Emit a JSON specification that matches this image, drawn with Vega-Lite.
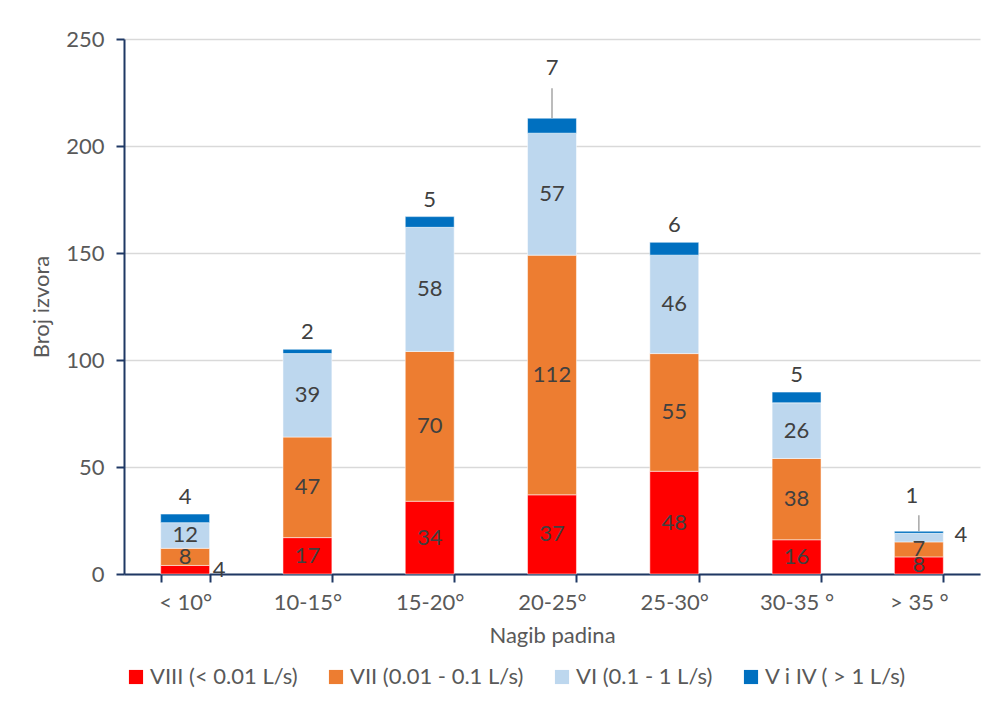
{
  "$schema": "https://vega.github.io/schema/vega-lite/v6.json",
  "width": 856,
  "height": 535,
  "autosize": {"type": "none"},
  "padding": {"left": 124, "top": 39, "right": 17, "bottom": 128},
  "background": "white",
  "config": {
    "font": "Lato",
    "view": {"stroke": null},
    "axis": {"labelFont": "Lato", "titleFont": "Lato"},
    "legend": {"labelFont": "Lato"}
  },
  "data": {
    "values": [
      {"cat": "< 10°", "series": "VIII (< 0.01 L/s)", "ord": 1, "value": 4},
      {"cat": "< 10°", "series": "VII (0.01 - 0.1 L/s)", "ord": 2, "value": 8},
      {"cat": "< 10°", "series": "VI (0.1 - 1 L/s)", "ord": 3, "value": 12},
      {"cat": "< 10°", "series": "V i IV ( > 1 L/s)", "ord": 4, "value": 4},
      {"cat": "10-15°", "series": "VIII (< 0.01 L/s)", "ord": 1, "value": 17},
      {"cat": "10-15°", "series": "VII (0.01 - 0.1 L/s)", "ord": 2, "value": 47},
      {"cat": "10-15°", "series": "VI (0.1 - 1 L/s)", "ord": 3, "value": 39},
      {"cat": "10-15°", "series": "V i IV ( > 1 L/s)", "ord": 4, "value": 2},
      {"cat": "15-20°", "series": "VIII (< 0.01 L/s)", "ord": 1, "value": 34},
      {"cat": "15-20°", "series": "VII (0.01 - 0.1 L/s)", "ord": 2, "value": 70},
      {"cat": "15-20°", "series": "VI (0.1 - 1 L/s)", "ord": 3, "value": 58},
      {"cat": "15-20°", "series": "V i IV ( > 1 L/s)", "ord": 4, "value": 5},
      {"cat": "20-25°", "series": "VIII (< 0.01 L/s)", "ord": 1, "value": 37},
      {"cat": "20-25°", "series": "VII (0.01 - 0.1 L/s)", "ord": 2, "value": 112},
      {"cat": "20-25°", "series": "VI (0.1 - 1 L/s)", "ord": 3, "value": 57},
      {"cat": "20-25°", "series": "V i IV ( > 1 L/s)", "ord": 4, "value": 7},
      {"cat": "25-30°", "series": "VIII (< 0.01 L/s)", "ord": 1, "value": 48},
      {"cat": "25-30°", "series": "VII (0.01 - 0.1 L/s)", "ord": 2, "value": 55},
      {"cat": "25-30°", "series": "VI (0.1 - 1 L/s)", "ord": 3, "value": 46},
      {"cat": "25-30°", "series": "V i IV ( > 1 L/s)", "ord": 4, "value": 6},
      {"cat": "30-35 °", "series": "VIII (< 0.01 L/s)", "ord": 1, "value": 16},
      {"cat": "30-35 °", "series": "VII (0.01 - 0.1 L/s)", "ord": 2, "value": 38},
      {"cat": "30-35 °", "series": "VI (0.1 - 1 L/s)", "ord": 3, "value": 26},
      {"cat": "30-35 °", "series": "V i IV ( > 1 L/s)", "ord": 4, "value": 5},
      {"cat": "> 35 °", "series": "VIII (< 0.01 L/s)", "ord": 1, "value": 8},
      {"cat": "> 35 °", "series": "VII (0.01 - 0.1 L/s)", "ord": 2, "value": 7},
      {"cat": "> 35 °", "series": "VI (0.1 - 1 L/s)", "ord": 3, "value": 4},
      {"cat": "> 35 °", "series": "V i IV ( > 1 L/s)", "ord": 4, "value": 1}
    ]
  },
  "encoding": {
    "x": {
      "field": "cat",
      "type": "nominal",
      "sort": ["< 10°", "10-15°", "15-20°", "20-25°", "25-30°", "30-35 °", "> 35 °"],
      "scale": {"paddingInner": 0.6, "paddingOuter": 0.3},
      "axis": {
        "title": "Nagib padina",
        "labelAngle": 0,
        "tickBand": "extent",
        "domainColor": "#1F3864",
        "domainWidth": 2,
        "tickColor": "#1F3864",
        "tickWidth": 2,
        "tickSize": 8,
        "labelFontSize": 22,
        "labelColor": "#595959",
        "labelPadding": 10,
        "titleFontSize": 22,
        "titleColor": "#595959",
        "titleFontWeight": "normal",
        "titlePadding": 12,
        "grid": false
      }
    }
  },
  "layer": [
    {
      "mark": {"type": "bar", "stroke": "white", "strokeWidth": 1, "strokeOpacity": 0.5},
      "encoding": {
        "y": {
          "field": "value",
          "type": "quantitative",
          "stack": "zero",
          "scale": {"domain": [0, 250], "nice": false, "zero": true},
          "axis": {
            "title": "Broj izvora",
            "values": [0, 50, 100, 150, 200, 250],
            "grid": true,
            "gridColor": "#d9d9d9",
            "gridWidth": 1.5,
            "domainColor": "#1F3864",
            "domainWidth": 2,
            "tickColor": "#1F3864",
            "tickWidth": 2,
            "tickSize": 8,
            "labelFontSize": 22,
            "labelColor": "#595959",
            "labelPadding": 12,
            "titleFontSize": 22,
            "titleColor": "#595959",
            "titleFontWeight": "normal",
            "titlePadding": 12
          }
        },
        "color": {
          "field": "series",
          "type": "nominal",
          "scale": {
            "domain": ["VIII (< 0.01 L/s)", "VII (0.01 - 0.1 L/s)", "VI (0.1 - 1 L/s)", "V i IV ( > 1 L/s)"],
            "range": ["#FF0000", "#ED7D31", "#BDD7EE", "#0070C0"]
          },
          "legend": {
            "title": null,
            "orient": "none",
            "legendX": 1,
            "legendY": 627,
            "direction": "horizontal",
            "symbolType": "square",
            "symbolSize": 200,
            "symbolStrokeWidth": 0,
            "labelFontSize": 22,
            "labelColor": "#595959",
            "labelLimit": 400,
            "columnPadding": 27,
            "labelOffset": 3
          }
        },
        "order": {"field": "ord", "type": "quantitative"}
      }
    },
    {
      "transform": [
        {"stack": "value", "groupby": ["cat"], "sort": [{"field": "ord"}], "as": ["y0", "y1"]},
        {"calculate": "(datum.y0 + datum.y1) / 2", "as": "mid"},
        {"filter": "datum.ord < 4 && !(datum.cat == '< 10°' && datum.ord == 1) && !(datum.cat == '> 35 °' && datum.ord == 3)"}
      ],
      "mark": {"type": "text", "fontSize": 22, "color": "#404040", "baseline": "middle"},
      "encoding": {
        "y": {"field": "mid", "type": "quantitative", "title": "Broj izvora"},
        "text": {"field": "value", "type": "quantitative"}
      }
    },
    {
      "transform": [
        {"stack": "value", "groupby": ["cat"], "sort": [{"field": "ord"}], "as": ["y0", "y1"]},
        {"calculate": "(datum.y0 + datum.y1) / 2", "as": "mid"},
        {"filter": "datum.cat == '< 10°' && datum.ord == 1"}
      ],
      "mark": {"type": "text", "fontSize": 22, "color": "#404040", "baseline": "middle", "dx": 34},
      "encoding": {
        "y": {"field": "mid", "type": "quantitative", "title": "Broj izvora"},
        "text": {"field": "value", "type": "quantitative"}
      }
    },
    {
      "transform": [
        {"stack": "value", "groupby": ["cat"], "sort": [{"field": "ord"}], "as": ["y0", "y1"]},
        {"calculate": "(datum.y0 + datum.y1) / 2", "as": "mid"},
        {"filter": "datum.cat == '> 35 °' && datum.ord == 3"}
      ],
      "mark": {"type": "text", "fontSize": 22, "color": "#404040", "baseline": "middle", "dx": 42, "dy": -3},
      "encoding": {
        "y": {"field": "mid", "type": "quantitative", "title": "Broj izvora"},
        "text": {"field": "value", "type": "quantitative"}
      }
    },
    {
      "transform": [
        {"stack": "value", "groupby": ["cat"], "sort": [{"field": "ord"}], "as": ["y0", "y1"]},
        {"filter": "datum.ord == 4 && datum.cat != '20-25°' && datum.cat != '> 35 °'"}
      ],
      "mark": {"type": "text", "fontSize": 22, "color": "#404040", "baseline": "bottom", "dy": -5},
      "encoding": {
        "y": {"field": "y1", "type": "quantitative", "title": "Broj izvora"},
        "text": {"field": "value", "type": "quantitative"}
      }
    },
    {
      "transform": [
        {"stack": "value", "groupby": ["cat"], "sort": [{"field": "ord"}], "as": ["y0", "y1"]},
        {"filter": "datum.ord == 4 && datum.cat == '20-25°'"}
      ],
      "mark": {"type": "text", "fontSize": 22, "color": "#404040", "baseline": "bottom", "dy": -38},
      "encoding": {
        "y": {"field": "y1", "type": "quantitative", "title": "Broj izvora"},
        "text": {"field": "value", "type": "quantitative"}
      }
    },
    {
      "transform": [
        {"stack": "value", "groupby": ["cat"], "sort": [{"field": "ord"}], "as": ["y0", "y1"]},
        {"filter": "datum.ord == 4 && datum.cat == '> 35 °'"}
      ],
      "mark": {"type": "text", "fontSize": 22, "color": "#404040", "baseline": "bottom", "dy": -23, "dx": -7},
      "encoding": {
        "y": {"field": "y1", "type": "quantitative", "title": "Broj izvora"},
        "text": {"field": "value", "type": "quantitative"}
      }
    },
    {
      "transform": [
        {"stack": "value", "groupby": ["cat"], "sort": [{"field": "ord"}], "as": ["y0", "y1"]},
        {"filter": "datum.ord == 4 && datum.cat == '20-25°'"},
        {"calculate": "datum.y1 + 14", "as": "lead"}
      ],
      "mark": {"type": "rule", "color": "#a6a6a6", "strokeWidth": 1.5},
      "encoding": {
        "y": {"field": "y1", "type": "quantitative", "title": "Broj izvora"},
        "y2": {"field": "lead"}
      }
    },
    {
      "transform": [
        {"stack": "value", "groupby": ["cat"], "sort": [{"field": "ord"}], "as": ["y0", "y1"]},
        {"filter": "datum.ord == 4 && datum.cat == '> 35 °'"},
        {"calculate": "datum.y1 + 7.5", "as": "lead"}
      ],
      "mark": {"type": "rule", "color": "#a6a6a6", "strokeWidth": 1.5},
      "encoding": {
        "y": {"field": "y1", "type": "quantitative", "title": "Broj izvora"},
        "y2": {"field": "lead"}
      }
    }
  ]
}
